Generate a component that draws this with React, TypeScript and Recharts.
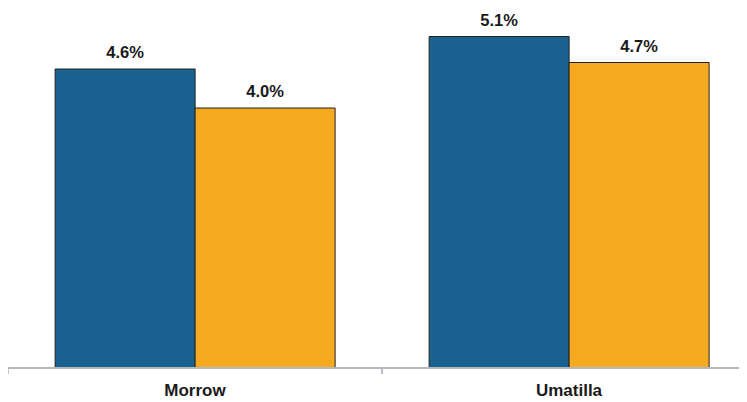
import { BarChart, Bar, XAxis, YAxis, LabelList } from 'recharts';

// Two counties, two periods
const counties = ['Morrow', 'Umatilla'];
const seriesA = [4.6, 5.1];
const seriesB = [4.0, 4.7];

const BLUE = '#19628f';
const ORANGE = '#f5aa1f';
const AXIS = '#b4b9c1';
const FONT = "'Liberation Sans', Arial, sans-serif";

const CHART_W = 748;
const BAND = CHART_W / counties.length;

const data = counties.map((name, i) => ({ name, a: seriesA[i], b: seriesB[i] }));

const fmt = (v: any) => `${Number(v).toFixed(1)}%`;

// Category label with small tick marks hanging below the band edges
const CategoryTick = (props: any) => {
    const { x, payload } = props;
    const axisY = 360;
    const left = x - BAND / 2;
    return (
        <g>
            <line x1={left} y1={axisY} x2={left} y2={axisY + 6} stroke={AXIS} strokeWidth={1.5} />
            <line x1={left + BAND} y1={axisY} x2={left + BAND} y2={axisY + 6} stroke={AXIS} strokeWidth={1.5} />
            <text x={x} y={axisY + 28} textAnchor="middle" fontSize={17} fontWeight="bold" fill="#1a1a1a" fontFamily={FONT}>
                {payload.value}
            </text>
        </g>
    );
};

const labelStyle = { fontSize: 16.5, fontWeight: 'bold', fill: '#1a1a1a', fontFamily: FONT };

export default function App() {
    return (
        <div style={{ width: 731, height: 394, overflow: 'hidden', background: '#fff' }}>
            <BarChart
                width={CHART_W}
                height={394}
                data={data}
                margin={{ top: 2.5, right: 0, bottom: 0, left: 0 }}
                barCategoryGap="12.6%"
                barGap={0}
            >
                <XAxis dataKey="name" axisLine={{ stroke: AXIS, strokeWidth: 2 }} tickLine={false}
                    tick={<CategoryTick />} height={34} interval={0} />
                <YAxis hide domain={[0, 5.5]} />
                <Bar dataKey="a" fill={BLUE} stroke="#222" strokeWidth={1} isAnimationActive={false}>
                    <LabelList dataKey="a" position="top" offset={11} formatter={fmt} style={labelStyle} />
                </Bar>
                <Bar dataKey="b" fill={ORANGE} stroke="#222" strokeWidth={1} isAnimationActive={false}>
                    <LabelList dataKey="b" position="top" offset={11} formatter={fmt} style={labelStyle} />
                </Bar>
            </BarChart>
        </div>
    );
}
